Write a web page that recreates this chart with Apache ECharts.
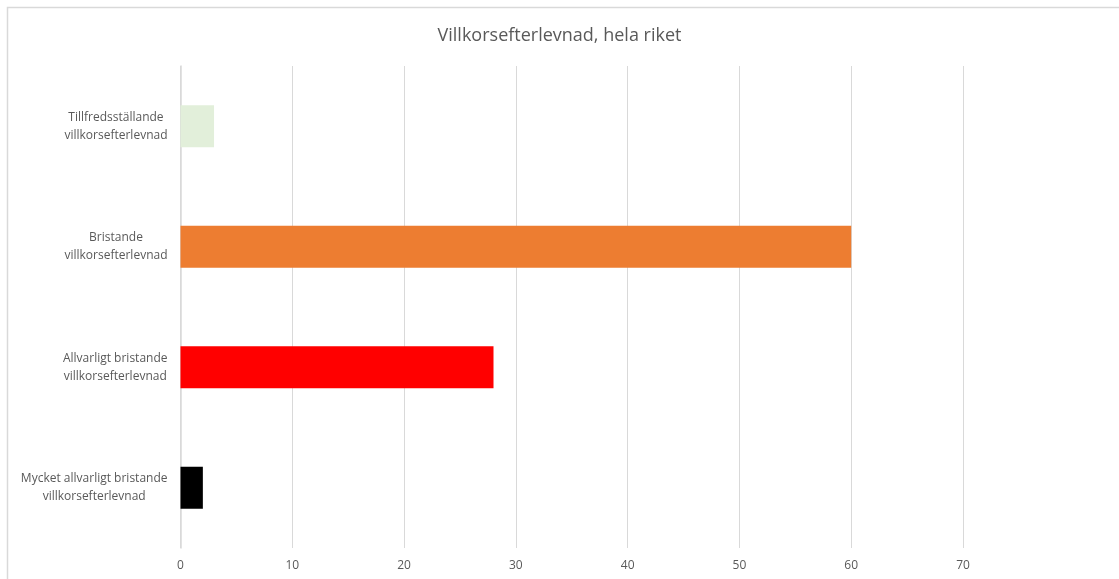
<!DOCTYPE html>
<html><head><meta charset="utf-8">
<script src="https://cdn.jsdelivr.net/npm/echarts@6/dist/echarts.min.js"></script>
<style>html,body{margin:0;padding:0;background:#fff}#c{width:1119px;height:579px}</style>
</head><body><div id="c"></div>
<script>
const categories = ["Mycket allvarligt bristande\nvillkorsefterlevnad", "Allvarligt bristande\nvillkorsefterlevnad", "Bristande\nvillkorsefterlevnad", "Tillfredsställande\nvillkorsefterlevnad"];
const values = [2, 28, 60, 3];
const colors = ["#000000", "#ff0000", "#ed7d31", "#e2efda"];
const xTicks = [0, 10, 20, 30, 40, 50, 60, 70];

const chart = echarts.init(document.getElementById('c'), null, {renderer: 'canvas'});
chart.setOption({
  animation: false,
  backgroundColor: '#fff',
  graphic: [{
    type: 'rect', shape: {x: 7.5, y: 7.5, width: 1120, height: 600},
    style: {fill: 'none', stroke: '#d9d9d9', lineWidth: 1.5}, z: -1
  }],
  title: {
    text: 'Villkorsefterlevnad, hela riket', left: 'center', top: 22,
    textStyle: {fontFamily: 'Open Sans', fontSize: 18, fontWeight: 'normal', color: '#595959'}
  },
  grid: {left: 180.5, right: 156, top: 66, bottom: 31, containLabel: false},
  xAxis: {
    type: 'value', min: 0, max: 70, interval: 10,
    axisLine: {show: false}, axisTick: {show: false},
    splitLine: {lineStyle: {color: '#d9d9d9', width: 1}},
    axisLabel: {fontFamily: 'Open Sans', fontSize: 12, color: '#595959', margin: 12,
      formatter: v => xTicks.includes(v) ? String(v) : ''}
  },
  yAxis: {
    type: 'category', data: categories,
    axisLine: {show: true, lineStyle: {color: '#d9d9d9', width: 1.5}},
    axisTick: {show: false},
    axisLabel: {fontFamily: 'Open Sans', fontSize: 12, color: '#595959', margin: 13, lineHeight: 18, align: 'right',
      formatter: v => v.split('\n').map(s => '{c|' + s + '}').join('\n'),
      rich: {c: {align: 'center', fontFamily: 'Open Sans', fontSize: 12, color: '#595959', lineHeight: 18}}
    }
  },
  series: [{
    type: 'bar', data: values.map((v, i) => ({value: v, itemStyle: {color: colors[i]}})),
    barWidth: 42
  }]
});
</script></body></html>
